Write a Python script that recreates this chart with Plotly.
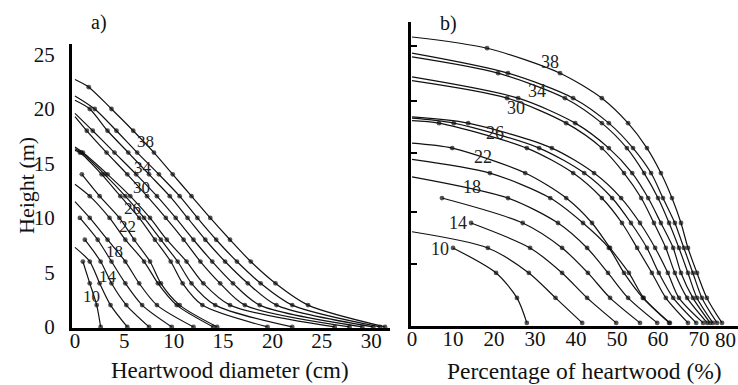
import plotly.graph_objects as go

# ---------------- data ----------------
ages = [10, 12, 14, 16, 18, 20, 22, 24, 26, 28, 30, 32, 34, 36, 38]
labelled_ages = [10, 14, 18, 22, 26, 30, 34, 38]

# Panel a) heartwood diameter (cm)
a_start_h = [6.0, 7.3, 8.0, 10.0, 11.5, 13.1, 14.0, 16.2, 16.35, 16.5, 19.3, 19.6, 20.8, 21.2, 22.7]
a_start_x = [0.8, 0.0, 1.0, 0.5, 0.0, 0.0, 0.7, 0.0, 0.0, 0.0, 0.0, 0.0, 0.0, 0.0, 0.0]
a_start_dot = [1, 0, 1, 1, 0, 0, 1, 0, 0, 0, 0, 0, 0, 0, 0]
a_h = [
    [4, 2, 0],
    [6, 4, 2, 0],
    [6, 4, 2, 0],
    [8, 6, 4, 2, 0],
    [10, 8, 6, 4, 2, 0],
    [12, 10, 8, 6, 4, 2, 0],
    [12, 10, 8, 6, 4, 2, 0],
    [16, 14, 12, 10, 8, 6, 4, 2, 0],
    [16, 14, 12, 10, 8, 6, 4, 2, 0],
    [16, 14, 12, 10, 8, 6, 4, 2, 0],
    [18, 16, 14, 12, 10, 8, 6, 4, 2, 0],
    [18, 16, 14, 12, 10, 8, 6, 4, 2, 0],
    [20, 18, 16, 14, 12, 10, 8, 6, 4, 2, 0],
    [20, 18, 16, 14, 12, 10, 8, 6, 4, 2, 0],
    [22, 20, 18, 16, 14, 12, 10, 8, 6, 4, 2, 0],
]
a_x = [
    [1.5, 2.2, 2.6],
    [1.5, 2.5, 3.6, 5.3],
    [2.6, 3.7, 5.2, 7.5],
    [2.3, 3.7, 5.1, 6.8, 9.8],
    [1.5, 3.3, 5.1, 6.5, 8.3, 12.0],
    [1.5, 3.5, 5.1, 7.0, 8.4, 10.3, 14.0],
    [2.5, 4.5, 6.0, 7.6, 8.7, 10.6, 14.4],
    [0.5, 2.7, 4.6, 6.5, 8.1, 9.7, 10.9, 12.9, 19.5],
    [0.65, 3.0, 5.1, 7.0, 8.7, 10.4, 11.8, 14.2, 22.0],
    [0.8, 3.3, 5.6, 7.6, 9.3, 11.3, 13.0, 15.7, 26.3],
    [1.2, 3.2, 5.3, 7.3, 9.2, 11.0, 12.7, 14.7, 17.2, 27.8],
    [1.8, 4.0, 6.2, 8.3, 10.2, 12.0, 13.9, 16.0, 18.7, 29.1],
    [1.5, 3.3, 5.4, 7.5, 9.6, 11.4, 13.2, 15.2, 17.5, 20.4, 30.2],
    [2.0, 4.2, 6.3, 8.5, 10.6, 12.4, 14.3, 16.4, 18.8, 22.0, 30.9],
    [1.4, 3.7, 5.9, 8.0, 9.9, 11.8, 13.7, 15.7, 17.8, 20.3, 23.6, 31.4],
]
a_label_x = [1.7, 3.3, 4.0, 5.3, 5.8, 6.7, 6.9, 7.1]
a_label_h = [2.8, 4.6, 6.9, 9.2, 10.9, 12.8, 14.6, 17.0]

# Panel b) percentage of heartwood (%)
b_start_h = [6.0, 7.3, 8.0, 10.0, 11.7, 13.1, 14.4, 16.2, 16.4, 16.5, 19.4, 19.7, 21.3, 21.6, 22.9]
b_start_x = [10.0, 0.0, 14.4, 7.3, 0.0, 0.0, 0.0, 0.0, 0.0, 0.0, 0.0, 0.0, 0.0, 0.0, 0.0]
b_start_dot = [1, 0, 1, 1, 0, 0, 0, 0, 0, 0, 0, 0, 0, 0, 0]
b_h = [
    [4, 2, 0],
    [6, 4, 2, 0],
    [6, 4, 2, 0],
    [8, 6, 4, 2, 0],
    [10, 8, 6, 4, 2, 0],
    [12, 10, 8, 6, 4, 2, 0],
    [14, 12, 10, 8, 6, 4, 2, 0],
    [16, 14, 12, 10, 8, 6, 4, 2, 0],
    [16, 14, 12, 10, 8, 6, 4, 2, 0],
    [16, 14, 12, 10, 8, 6, 4, 2, 0],
    [18, 16, 14, 12, 10, 8, 6, 4, 2, 0],
    [18, 16, 14, 12, 10, 8, 6, 4, 2, 0],
    [20, 18, 16, 14, 12, 10, 8, 6, 4, 2, 0],
    [20, 18, 16, 14, 12, 10, 8, 6, 4, 2, 0],
    [22, 20, 18, 16, 14, 12, 10, 8, 6, 4, 2, 0],
]
b_x = [
    [20.5, 25.6, 28.0],
    [18.5, 28.5, 35.0, 41.5],
    [28.8, 36.6, 42.7, 49.8],
    [27.0, 36.6, 42.9, 48.3, 55.6],
    [23.4, 35.6, 42.7, 47.8, 52.7, 59.8],
    [19.0, 33.7, 41.7, 48.0, 51.7, 56.3, 62.7],
    [9.8, 27.6, 37.6, 43.9, 48.3, 52.9, 56.5, 62.9],
    [6.6, 28.0, 39.3, 46.3, 51.2, 54.9, 58.5, 61.9, 67.3],
    [10.2, 31.0, 42.0, 48.8, 53.4, 57.3, 60.2, 63.7, 69.3],
    [13.7, 34.1, 44.4, 51.0, 55.6, 59.3, 62.4, 65.1, 71.0],
    [23.2, 37.6, 46.3, 51.7, 55.9, 59.0, 61.9, 64.1, 67.1, 72.0],
    [25.9, 39.8, 48.0, 53.7, 57.6, 60.7, 63.7, 65.6, 68.5, 72.7],
    [21.0, 37.3, 46.3, 52.4, 56.6, 60.0, 62.7, 65.1, 67.3, 69.5, 73.4],
    [23.4, 39.3, 48.0, 53.9, 58.3, 61.2, 64.1, 66.3, 68.5, 70.7, 74.4],
    [18.3, 36.1, 46.3, 52.7, 57.3, 60.7, 63.4, 65.6, 67.3, 69.5, 71.9, 75.6],
]
b_label_x = [6.8, 11.2, 14.6, 17.3, 20.2, 25.4, 30.5, 33.7]
b_label_h = [5.9, 8.0, 10.9, 13.3, 15.2, 17.2, 18.6, 20.9]
b_ytick_marks = [4.72, 8.88, 13.6, 17.76, 22.16]

a_xticks = [0, 5, 10, 15, 20, 25, 30]
a_yticks = [0, 5, 10, 15, 20, 25]
b_xticks = [0, 10, 20, 30, 40, 50, 60, 70]
b_xtick_edge = "80"   # last tick label, drawn at the right edge

# ---------------- figure ----------------
FONT = "Liberation Serif, Times New Roman, Times, serif"
W, H = 738, 385
fig = go.Figure()

def add_curves(sx, sh, sdot, hs, xs, xa, ya, msize):
    for i in range(len(ages)):
        x = [sx[i]] + xs[i]
        y = [sh[i]] + hs[i]
        sizes = [msize if sdot[i] else 0] + [msize] * len(xs[i])
        fig.add_trace(go.Scatter(
            x=x, y=y, mode="lines+markers", xaxis=xa, yaxis=ya,
            line=dict(color="#111111", width=1.2, shape="spline", smoothing=0.8),
            marker=dict(color="#111111", size=sizes, line=dict(width=0)),
            showlegend=False, hoverinfo="skip"))

add_curves(a_start_x, a_start_h, a_start_dot, a_h, a_x, "x", "y", 4.8)
add_curves(b_start_x, b_start_h, b_start_dot, b_h, b_x, "x2", "y2", 4.8)

def px_x(p):
    return p / W

def px_y(p):
    return (H - p) / H

axis_common = dict(showgrid=False, zeroline=False, showline=True, linecolor="black",
                   linewidth=3, automargin=False,
                   tickfont=dict(family=FONT, size=21, color="#111111"))

fig.update_layout(
    width=W, height=H, margin=dict(l=0, r=0, t=0, b=0, pad=0),
    plot_bgcolor="white", paper_bgcolor="white",
    font=dict(family=FONT, color="#111111"),
    xaxis=dict(domain=[px_x(72), px_x(390)], range=[-0.3, 31.9], anchor="y",
               tickvals=a_xticks, ticks="", ticklabelstandoff=-8, **axis_common),
    yaxis=dict(domain=[px_y(328), px_y(43.6)], range=[-0.1, 26.0], anchor="x",
               tickvals=a_yticks, ticks="", ticklabelstandoff=10, **axis_common),
    xaxis2=dict(domain=[px_x(411), px_x(738)], range=[-0.25, 79.5], anchor="y2",
                tickvals=b_xticks, ticks="", ticklabelstandoff=-8, **axis_common),
    yaxis2=dict(domain=[px_y(326), px_y(22)], range=[-0.25, 24.1], anchor="x2",
                tickvals=b_ytick_marks, ticks="inside", ticklen=6, tickwidth=2,
                tickcolor="black", showticklabels=False, **axis_common),
)

ann = []
for i, age in enumerate(labelled_ages):
    ann.append(dict(x=a_label_x[i], y=a_label_h[i], xref="x", yref="y", text=str(age),
                    xanchor="center", yanchor="middle",
                    showarrow=False, font=dict(family=FONT, size=17, color="#222222")))
    ann.append(dict(x=b_label_x[i], y=b_label_h[i], xref="x2", yref="y2", text=str(age),
                    xanchor="center", yanchor="middle",
                    showarrow=False, font=dict(family=FONT, size=18, color="#222222")))

def paper_text(px, py, text, size, angle=0):
    return dict(x=px_x(px), y=px_y(py), xref="paper", yref="paper", text=text,
                xanchor="center", yanchor="middle", textangle=angle,
                showarrow=False, font=dict(family=FONT, size=size, color="#111111"))

ann += [
    paper_text(230, 370, "Heartwood diameter (cm)", 23),
    paper_text(584, 371, "Percentage of heartwood (%)", 23.5),
    paper_text(26, 185, "Height (m)", 22, -90),
    paper_text(99, 22, "a)", 20),
    paper_text(448, 23, "b)", 20),
    paper_text(725, 340, b_xtick_edge, 21),
]
fig.update_layout(annotations=ann)

fig.write_html("out.html")
